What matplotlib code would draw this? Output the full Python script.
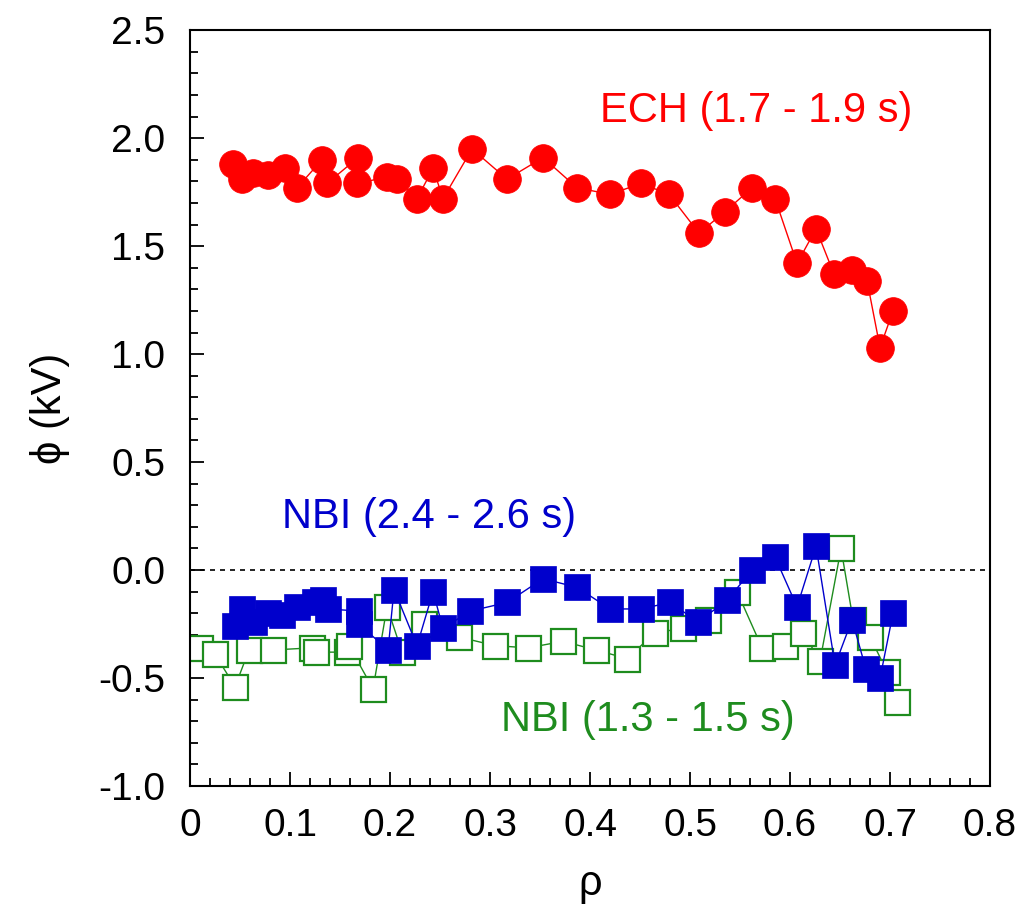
import matplotlib
matplotlib.use("Agg")
import matplotlib.pyplot as plt
from matplotlib.ticker import MultipleLocator, FormatStrFormatter, FuncFormatter

plt.rcParams['font.family'] = ['Liberation Sans', 'DejaVu Sans']

# ECH (1.7 - 1.9 s)
ech_rho = [0.043, 0.052, 0.063, 0.078, 0.095, 0.107, 0.132, 0.137, 0.168, 0.167,
           0.197, 0.207, 0.227, 0.243, 0.253, 0.282, 0.317, 0.353, 0.387, 0.420,
           0.451, 0.479, 0.509, 0.535, 0.562, 0.585, 0.607, 0.626, 0.644, 0.662,
           0.677, 0.690, 0.703]
ech_phi = [1.88, 1.81, 1.84, 1.83, 1.86, 1.77, 1.90, 1.79, 1.91, 1.79,
           1.82, 1.81, 1.72, 1.86, 1.72, 1.95, 1.81, 1.91, 1.77, 1.74,
           1.79, 1.74, 1.56, 1.66, 1.77, 1.72, 1.42, 1.58, 1.37, 1.39,
           1.34, 1.03, 1.20]

# NBI (2.4 - 2.6 s)
nbi2_rho = [0.045, 0.052, 0.064, 0.078, 0.092, 0.107, 0.125, 0.133, 0.138, 0.169,
            0.169, 0.198, 0.204, 0.227, 0.243, 0.253, 0.280, 0.317, 0.353, 0.387,
            0.420, 0.451, 0.480, 0.508, 0.537, 0.562, 0.585, 0.607, 0.626, 0.645,
            0.662, 0.676, 0.690, 0.703]
nbi2_phi = [-0.26, -0.18, -0.24, -0.20, -0.21, -0.17, -0.15, -0.14, -0.18, -0.19,
            -0.25, -0.37, -0.09, -0.35, -0.10, -0.27, -0.19, -0.15, -0.04, -0.08,
            -0.18, -0.18, -0.15, -0.24, -0.14, 0.00, 0.06, -0.17, 0.11, -0.44,
            -0.23, -0.46, -0.50, -0.20]

# NBI (1.3 - 1.5 s)
nbi1_rho = [0.010, 0.025, 0.045, 0.059, 0.083, 0.122, 0.126, 0.157, 0.159, 0.183,
            0.197, 0.212, 0.234, 0.269, 0.305, 0.338, 0.373, 0.406, 0.437, 0.465,
            0.493, 0.518, 0.547, 0.572, 0.595, 0.613, 0.630, 0.651, 0.663, 0.680,
            0.697, 0.707]
nbi1_phi = [-0.36, -0.39, -0.54, -0.37, -0.37, -0.36, -0.38, -0.38, -0.35, -0.55,
            -0.17, -0.38, -0.25, -0.31, -0.35, -0.36, -0.33, -0.37, -0.41, -0.29,
            -0.27, -0.23, -0.10, -0.36, -0.35, -0.29, -0.42, 0.10, -0.23, -0.31,
            -0.47, -0.61]

RED = '#ff0000'
BLUE = '#0000cc'
GREEN = '#1e8c1e'

fig = plt.figure(figsize=(10.25, 9.14), dpi=100)
ax = fig.add_axes([0.1854, 0.140, 0.7805, 0.827])

ax.axhline(0, color='black', lw=1.2, ls=(0, (3, 3)), zorder=1)

ax.plot(nbi1_rho, nbi1_phi, '-', color=GREEN, lw=1.0, marker='s', ms=18,
        mfc='white', mec=GREEN, mew=1.6, zorder=2)
ax.plot(nbi2_rho, nbi2_phi, '-', color=BLUE, lw=1.0, marker='s', ms=19,
        mfc=BLUE, mec=BLUE, mew=0.5, zorder=3)
ax.plot(ech_rho, ech_phi, '-', color=RED, lw=1.0, marker='o', ms=20,
        mfc=RED, mec=RED, mew=0.5, zorder=4)

ax.set_xlim(0, 0.8)
ax.set_ylim(-1.0, 2.5)
ax.xaxis.set_major_locator(MultipleLocator(0.1))
ax.xaxis.set_minor_locator(MultipleLocator(0.02))
ax.yaxis.set_major_locator(MultipleLocator(0.5))
ax.yaxis.set_minor_locator(MultipleLocator(0.1))
ax.xaxis.set_major_formatter(FuncFormatter(lambda v, p: '0' if abs(v) < 1e-9 else f'{v:.1f}'))
ax.yaxis.set_major_formatter(FormatStrFormatter('%.1f'))

for s in ax.spines.values():
    s.set_linewidth(1.5)
ax.tick_params(which='both', direction='in', width=1.3, labelsize=28, top=False, right=False)
ax.tick_params(which='major', length=10)
ax.tick_params(which='minor', length=6)
ax.tick_params(axis='y', which='major', pad=18)
ax.tick_params(axis='x', which='major', pad=16)

ax.set_xlabel('ρ', fontsize=30, labelpad=14)
ax.set_ylabel('ϕ (kV)', fontsize=30, labelpad=20)

ax.text(0.566, 2.127, 'ECH (1.7 - 1.9 s)', color=RED, fontsize=30, ha='center', va='center')
ax.text(0.239, 0.245, 'NBI (2.4 - 2.6 s)', color=BLUE, fontsize=30, ha='center', va='center')
ax.text(0.458, -0.695, 'NBI (1.3 - 1.5 s)', color=GREEN, fontsize=30, ha='center', va='center')

fig.savefig('out.png', dpi=100)
